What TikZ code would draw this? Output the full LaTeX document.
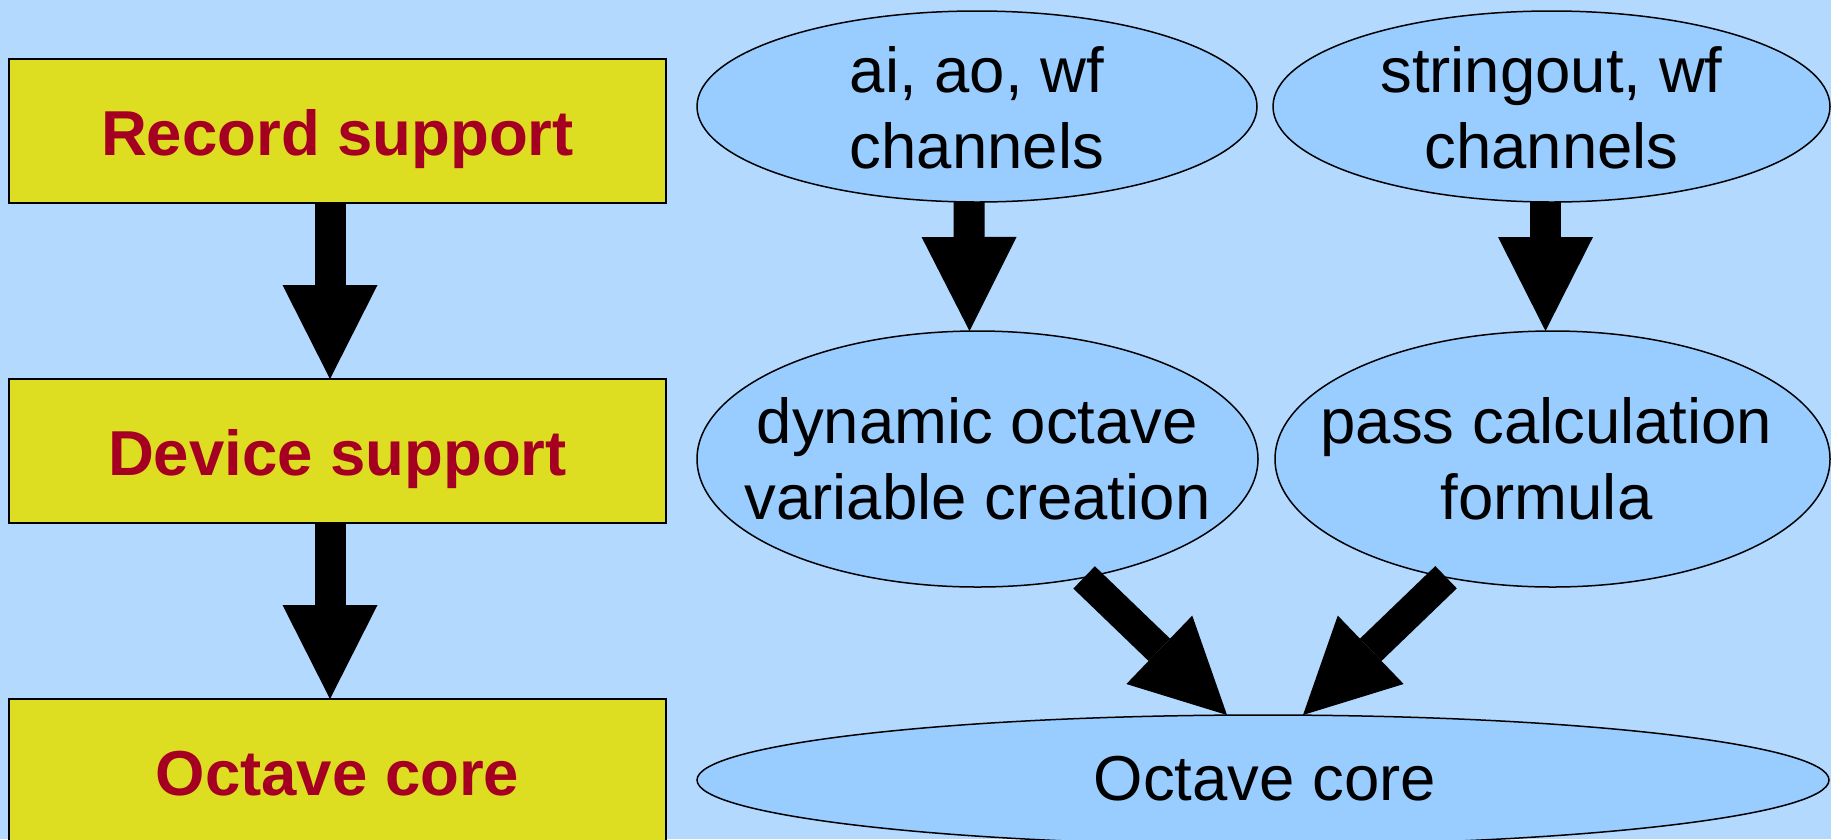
\documentclass[tikz,border=0pt]{standalone}
\usepackage{fontspec}
\setmainfont{Liberation Sans}
\usetikzlibrary{shapes.geometric,arrows.meta}
\definecolor{bgblue}{RGB}{179,217,255}
\definecolor{ovalblue}{RGB}{153,204,255}
\definecolor{boxyellow}{RGB}{221,221,34}
\definecolor{boxred}{RGB}{165,0,33}
\begin{document}
\begin{tikzpicture}[x=1pt,y=-1pt,
  layerbox/.style={draw=black,line width=1.8pt,fill=boxyellow,minimum width=657pt,minimum height=144pt,
    inner sep=0pt,outer sep=0pt,text=boxred,font=\fontsize{63.5}{76}\selectfont\bfseries,
    text height=48pt,text depth=0pt},
  oval/.style={ellipse,draw=black,line width=1.5pt,fill=ovalblue,inner sep=0pt,outer sep=0pt},
  ovaltext/.style={align=center,inner sep=0pt,font=\fontsize{63.5}{76}\selectfont},
  blockarrow/.style={draw=black,line width=31pt,-{Triangle[width=95pt,length=94pt,line width=0pt]}}
]
\useasboundingbox (0,0) rectangle (1831,839);
\fill[bgblue] (0,0) rectangle (1831,839);

% left column boxes
\node[layerbox] (rec)  at (337.5,131) {Record support};
\node[layerbox] (dev)  at (337.5,451) {Device support};
\node[layerbox] (core) at (337.5,771) {Octave core};

% ellipses
\node[oval,minimum width=560pt,minimum height=191pt] (chan1) at (977,106.5) {};
\node[oval,minimum width=557pt,minimum height=191pt] (chan2) at (1551.5,106.5) {};
\node[oval,minimum width=561pt,minimum height=256pt] (dyn)   at (977.5,459) {};
\node[oval,minimum width=555pt,minimum height=256pt] (pass)  at (1552.5,459) {};
\node[oval,minimum width=1132pt,minimum height=130pt] (oct)  at (1263,780) {};

% ellipse texts
\node[ovaltext] (chan1t) at ([yshift=-1.5pt]chan1.center) {ai, ao, wf\\channels};
\node[ovaltext] (chan2t) at ([yshift=-1.5pt]chan2.center) {stringout, wf\\channels};
\node[ovaltext] (dynt)   at (dyn.center) {dynamic octave\\variable creation};
\node[ovaltext] (passt)  at ([xshift=-6pt]pass.center) {pass calculation\\formula};
\node[ovaltext] (octt)   at ([xshift=2pt,yshift=1.5pt]oct.center) {Octave core};

% arrows
\draw[blockarrow] ([xshift=-7.5pt]rec.south) -- ([xshift=-7.5pt]dev.north);
\draw[blockarrow] ([xshift=-7.5pt]dev.south) -- ([xshift=-7.5pt]core.north);
\draw[blockarrow] ([xshift=-8pt]chan1.south) -- ([xshift=-8pt]dyn.north);
\draw[blockarrow] ([xshift=-6pt]chan2.south) -- ([xshift=-7pt]pass.north);
\draw[blockarrow] (dyn.-48) -- ([xshift=-36pt]oct.north);
\draw[blockarrow] (pass.-132) -- ([xshift=40pt]oct.north);
\end{tikzpicture}
\end{document}
